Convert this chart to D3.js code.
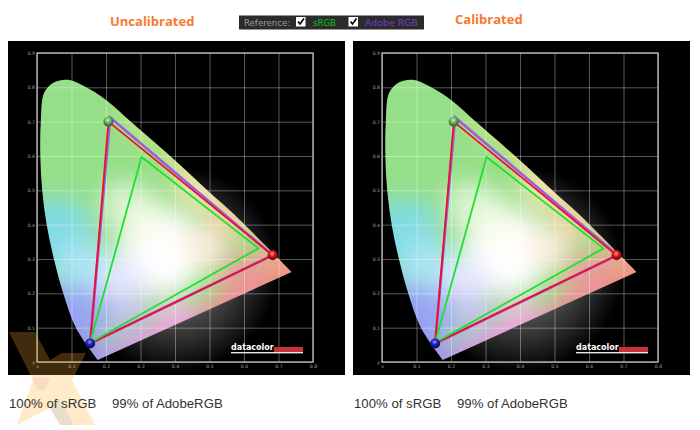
<!DOCTYPE html>
<html lang="en">
<head>
    <meta charset="UTF-8">
    <title>Gamut - Uncalibrated vs Calibrated</title>
    <script src="https://d3js.org/d3.v7.min.js"></script>
    <style>
        body { margin: 0; padding: 0; background: #fff; }
        svg { display: block; }
        .title { font-family: "Open Sans", sans-serif; font-weight: 700; font-size: 13px; fill: #f47b30; }
        .ref { font-family: "DejaVu Sans", sans-serif; font-size: 8.6px; }
        .note { font-family: "Liberation Sans", Arial, sans-serif; font-size: 13.2px; fill: #333; }
        .tick text { font-family: "DejaVu Sans", sans-serif; font-size: 4.6px; fill: #a0a0a0; }
        .logo { font-family: "DejaVu Sans", sans-serif; font-weight: 700; font-size: 8px; fill: #fff; }
    </style>
</head>
<body>
<div id="chart"></div>
<script>
    const xTicks = [0, 0.1, 0.2, 0.3, 0.4, 0.5, 0.6, 0.7, 0.8];
    const yTicks = [0, 0.1, 0.2, 0.3, 0.4, 0.5, 0.6, 0.7, 0.8, 0.9];

    // spectral locus outline (x, y chromaticity)
    const locus = [[0.176, 0.006], [0.113, 0.099], [0.076, 0.200], [0.049, 0.300], [0.028, 0.400],
        [0.015, 0.500], [0.0096, 0.600], [0.011, 0.700], [0.021, 0.785], [0.050, 0.815], [0.090, 0.822],
        [0.133, 0.805], [0.202, 0.762], [0.274, 0.698], [0.390, 0.596], [0.496, 0.498],
        [0.568, 0.433], [0.738, 0.262]];

    const sRGB = [[0.303, 0.597], [0.642, 0.331], [0.154, 0.056]];
    const adobeRGB = [[0.212, 0.712], [0.683, 0.311], [0.154, 0.054]];
    const uncalibrated = [[0.207, 0.700], [0.683, 0.311], [0.154, 0.054]];
    const calibrated = [[0.208, 0.700], [0.680, 0.311], [0.154, 0.054]];

    // colour patches inside and just past the locus: x, y, radius, colour
    const patches = [
        [0.00, 0.36, 0.10, "#72d4e2"], [0.07, 0.38, 0.09, "#7fdce4"], [0.13, 0.28, 0.08, "#a8e4f2"],
        [0.05, 0.10, 0.12, "#8088f0"], [0.13, 0.14, 0.08, "#98a4f2"], [0.17, -0.03, 0.09, "#a090e4"],
        [0.30, -0.02, 0.11, "#c89ae0"], [0.42, 0.04, 0.12, "#e690d8"], [0.60, 0.10, 0.13, "#e88694"],
        [0.75, 0.22, 0.10, "#ea8c80"], [0.60, 0.25, 0.07, "#ea9898"], [0.72, 0.34, 0.07, "#eeaa88"],
        [0.60, 0.48, 0.09, "#e8cc90"], [0.48, 0.60, 0.10, "#e0e090"], [0.35, 0.72, 0.09, "#c8e488"],
        [0.47, 0.50, 0.06, "#f0e4b0"], [0.55, 0.41, 0.05, "#f2d0a0"],
        [0.36, 0.32, 0.12, "#ffffff"], [0.30, 0.42, 0.07, "#f6fbe8"], [0.25, 0.46, 0.06, "#e0f6d8"],
        [0.25, 0.24, 0.07, "#e8e8ff"], [0.26, 0.15, 0.05, "#c8c0f4"], [0.40, 0.13, 0.05, "#eeb0e0"],
        [0.48, 0.33, 0.06, "#fdeee0"]
    ];

    const panelW = 337, panelH = 334, plotW = 276, plotH = 309;

    const svg = d3.select("#chart").append("svg").attr("width", 700).attr("height", 430);
    const defs = svg.append("defs");

    defs.append("filter").attr("id", "soft")
        .attr("x", "-20%").attr("y", "-20%").attr("width", "140%").attr("height", "140%")
        .append("feGaussianBlur").attr("stdDeviation", 12);

    const glow = defs.append("radialGradient").attr("id", "glow");
    glow.append("stop").attr("offset", "0%").attr("stop-color", "#fff").attr("stop-opacity", 0.55);
    glow.append("stop").attr("offset", "65%").attr("stop-color", "#fff").attr("stop-opacity", 0.2);
    glow.append("stop").attr("offset", "100%").attr("stop-color", "#fff").attr("stop-opacity", 0);

    function ballGradient(id, light, mid, dark) {
        const g = defs.append("radialGradient").attr("id", id).attr("cx", "45%").attr("cy", "35%");
        g.append("stop").attr("offset", "0%").attr("stop-color", light);
        g.append("stop").attr("offset", "55%").attr("stop-color", mid);
        g.append("stop").attr("offset", "100%").attr("stop-color", dark);
    }
    ballGradient("ballG", "#c6eeb0", "#6cba5c", "#3a7040");
    ballGradient("ballR", "#ff9a8a", "#e0181c", "#8a0a10");
    ballGradient("ballB", "#8f9cff", "#2020c8", "#14145e");

    function drawPanel(left, idx, primaries) {
        const g = svg.append("g").attr("transform", `translate(${left},41)`);
        g.append("rect").attr("width", panelW).attr("height", panelH).attr("fill", "#000");

        const plot = g.append("g").attr("transform", "translate(29,12)");
        const x = d3.scaleLinear().domain([0, 0.8]).range([0, plotW]);
        const y = d3.scaleLinear().domain([0, 0.9]).range([plotH, 0]);

        // white glow behind the locus
        plot.append("circle").attr("cx", x(0.40)).attr("cy", y(0.27)).attr("r", x(0.30))
            .attr("fill", "url(#glow)");

        const line = d3.line().x(d => x(d[0])).y(d => y(d[1]));
        const locusPath = line.curve(d3.curveCatmullRom)(locus) + "Z";
        line.curve(d3.curveLinear);

        plot.append("clipPath").attr("id", "locus" + idx).append("path").attr("d", locusPath);
        const fill = plot.append("g").attr("clip-path", `url(#locus${idx})`);
        const blurred = fill.append("g").attr("filter", "url(#soft)");
        blurred.append("rect").attr("x", -40).attr("y", -40).attr("width", plotW + 80).attr("height", plotH + 80)
            .attr("fill", "#94df88");
        blurred.selectAll("circle").data(patches).join("circle")
            .attr("cx", d => x(d[0])).attr("cy", d => y(d[1])).attr("r", d => x(d[2])).attr("fill", d => d[3]);

        // grid and labels
        const ax = plot.append("g").attr("transform", `translate(0,${plotH})`)
            .call(d3.axisBottom(x).tickValues(xTicks).tickSize(-plotH).tickPadding(3)
                .tickFormat(d => d === 0 ? "x" : d3.format(".1f")(d)));
        const ay = plot.append("g")
            .call(d3.axisLeft(y).tickValues(yTicks).tickSize(-plotW).tickPadding(2)
                .tickFormat(d => d === 0 ? "y" : d3.format(".1f")(d)));
        [ax, ay].forEach(a => {
            a.select(".domain").remove();
            a.selectAll("line").attr("stroke", "#fff").attr("stroke-opacity", 0.38).attr("stroke-width", 0.9);
        });
        plot.append("rect").attr("x", x(0)).attr("y", y(0.9)).attr("width", x(0.8)).attr("height", y(0))
            .attr("fill", "none").attr("stroke", "#b4b4b4").attr("stroke-width", 1.4);

        // gamut triangles
        const tri = (pts, color, w) => plot.append("path").attr("d", line(pts) + "Z")
            .attr("fill", "none").attr("stroke", color).attr("stroke-width", w).attr("stroke-linejoin", "miter");
        tri(adobeRGB, "#9a5ce0", 2.6);
        tri(primaries, "#ee1026", 1.8);
        tri(sRGB, "#1fe030", 1.8);

        ["ballG", "ballR", "ballB"].forEach((b, i) => {
            plot.append("circle").attr("cx", x(primaries[i][0])).attr("cy", y(primaries[i][1]))
                .attr("r", 5).attr("fill", `url(#${b})`);
        });

        // logo
        const logo = g.append("g");
        logo.append("text").attr("class", "logo").attr("x", 223).attr("y", 309).text("datacolor");
        logo.append("rect").attr("x", 266).attr("y", 306).attr("width", 29).attr("height", 5).attr("fill", "#c8303a");
        logo.append("rect").attr("x", 223).attr("y", 311).attr("width", 72).attr("height", 1.4).attr("fill", "#e8e8e8");
    }

    // watermark sits over the left plot's corner and the page below it
    function drawWatermark() {
        const wm = svg.append("g").attr("opacity", 0.25);
        wm.append("path").attr("fill", "#ffb030")
            .attr("d", "M9,332L35,332L50,360L62,353L86,353L72,380L95,425L60,425L50,408L17,425L33,380Z");
        wm.append("path").attr("fill", "#d83000").attr("opacity", 0.5).attr("d", "M32,378L50,378L44,390L38,390Z");
        wm.append("path").attr("fill", "#303040").attr("opacity", 0.4).attr("d", "M50,408L60,398L74,425L60,425Z");
    }

    drawPanel(8, 1, uncalibrated);
    drawPanel(353, 2, calibrated);
    drawWatermark();

    // page text
    svg.append("text").attr("class", "title").attr("x", 110).attr("y", 26).text("Uncalibrated");
    svg.append("text").attr("class", "title").attr("x", 455).attr("y", 24).text("Calibrated");

    svg.append("rect").attr("x", 239).attr("y", 15.5).attr("width", 185).attr("height", 14).attr("fill", "#2b2b2b");
    svg.append("text").attr("class", "ref").attr("x", 244).attr("y", 25.5).attr("fill", "#9a9a9a").text("Reference:");
    svg.append("text").attr("class", "ref").attr("x", 313).attr("y", 26).attr("fill", "#18c018").text("sRGB");
    svg.append("text").attr("class", "ref").style("font-size", "9.4px").attr("x", 365).attr("y", 26).attr("fill", "#7040c8").text("Adobe RGB");
    [296, 348.5].forEach(bx => {
        svg.append("rect").attr("x", bx).attr("y", 17).attr("width", 9.5).attr("height", 9.5).attr("fill", "#fff");
        svg.append("path").attr("d", `M${bx + 2},${21.5}L${bx + 4},${24}L${bx + 8},${18.5}`)
            .attr("fill", "none").attr("stroke", "#000").attr("stroke-width", 1.6);
    });

    [[9, 112], [354, 457]].forEach(p => {
        svg.append("text").attr("class", "note").attr("x", p[0]).attr("y", 408).text("100% of sRGB");
        svg.append("text").attr("class", "note").attr("x", p[1]).attr("y", 408).text("99% of AdobeRGB");
    });
</script>
</body>
</html>
